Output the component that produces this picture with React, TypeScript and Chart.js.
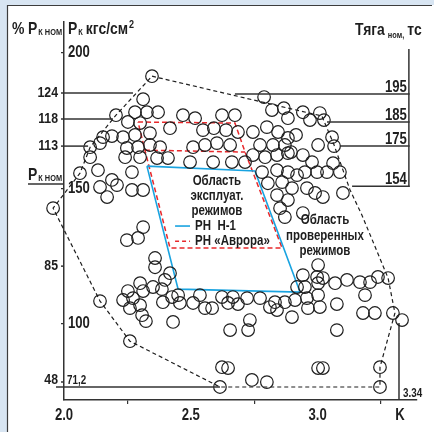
import React, { useEffect, useRef } from "react";
import { Chart, registerables } from "chart.js";

Chart.register(...registerables);

// condensed look: text set in Liberation Sans is squeezed horizontally when drawn
const COND = "'Liberation Sans', Arial, sans-serif";
const SQUEEZE = 0.82;
const INK = "#1e1e1e";
const RULE = "#333333";

// ---- axis ticks ----
const xTickValues = [2.0, 2.25, 2.5, 2.75, 3.0, 3.25, 3.325];
const xTickLabels = ["2.0", "", "2.5", "", "3.0", "", "K"];
const yTickValues = [100, 150, 200];
const yTickLabels = ["100", "150", "200"];

// ---- tested points [K, Pk] ----
const upperBand: number[][] = [
  [2.347, 191.3], [2.312, 182.8], [2.28, 178.0], [2.327, 178.0], [2.371, 178.0], [2.205, 176.9],
  [2.252, 174.4], [2.3, 174.0], [2.154, 168.8], [2.189, 169.2], [2.233, 168.8], [2.28, 169.6],
  [2.339, 170.3], [2.379, 165.1], [2.339, 165.9], [2.103, 165.1], [2.142, 166.6], [2.248, 164.8],
  [2.292, 165.1], [2.103, 161.4], [2.241, 161.4], [2.3, 161.4], [2.367, 161.1], [2.41, 161.1],
  [2.063, 155.5], [2.134, 156.6], [2.189, 153.0], [2.142, 150.4], [2.209, 151.1], [2.17, 146.7],
  [2.268, 155.9], [2.268, 149.3], [2.312, 149.3],
  [2.418, 172.1], [2.469, 176.9], [2.517, 175.8], [2.623, 176.9], [2.674, 176.9], [2.548, 171.4],
  [2.591, 172.1], [2.639, 171.4], [2.686, 170.7], [2.509, 165.1], [2.556, 165.9], [2.603, 166.6],
  [2.655, 165.9], [2.497, 159.6], [2.588, 159.6], [2.662, 159.6], [2.714, 159.6],
  [2.789, 183.6], [2.82, 178.8], [2.867, 179.5], [2.883, 175.8], [2.745, 170.7], [2.8, 172.5],
  [2.844, 170.7], [2.883, 168.5], [2.773, 165.9], [2.824, 165.9], [2.871, 165.9], [2.745, 162.2],
  [2.793, 161.4], [2.84, 162.2], [2.883, 162.9], [2.781, 155.9], [2.84, 156.6], [2.883, 155.9],
  [2.804, 151.8], [2.86, 152.2], [2.899, 150.0], [2.84, 147.4], [2.883, 145.6], [2.852, 142.6],
  [2.942, 178.0], [2.97, 175.1], [3.009, 177.7], [3.025, 175.1], [2.915, 169.6], [3.002, 165.9],
  [3.057, 168.8], [3.065, 165.5], [2.895, 163.3], [2.942, 162.2], [2.978, 159.6], [2.95, 155.9],
  [2.919, 154.8], [2.998, 155.9], [3.037, 155.9], [3.061, 159.2], [3.088, 155.9], [2.958, 150.0],
  [2.99, 148.2], [3.021, 146.7], [3.1, 148.2], [2.942, 140.8], [2.871, 139.3],
];
const lowerBand: number[][] = [
  [2.312, 135.6], [2.248, 130.8], [2.292, 131.6], [2.359, 124.2], [2.359, 120.8], [2.142, 108.3],
  [2.26, 93.5], [2.3, 114.9], [2.252, 112.0], [2.233, 108.7], [2.272, 109.4], [2.312, 112.0],
  [2.26, 105.7], [2.3, 106.8], [2.308, 103.1], [2.323, 100.9], [2.351, 113.5], [2.398, 116.1],
  [2.418, 118.6], [2.386, 112.7], [2.39, 107.9], [2.426, 109.8], [2.43, 100.6],
  [2.45, 110.5], [2.536, 110.5], [2.623, 109.8], [2.666, 109.8], [2.722, 109.4], [2.773, 109.4],
  [2.832, 107.9], [2.871, 107.9], [2.457, 107.6], [2.509, 107.6], [2.556, 105.7], [2.584, 105.7],
  [2.647, 107.6], [2.686, 107.2], [2.812, 106.1], [2.84, 105.0], [2.733, 101.3], [2.726, 97.6],
  [2.655, 97.6], [2.623, 83.9], [2.647, 83.6], [2.615, 76.6], [2.741, 79.2], [2.8, 78.4],
  [3.002, 121.6], [2.942, 117.9], [2.998, 117.2], [3.021, 116.8], [3.069, 114.9], [3.116, 116.1],
  [3.167, 115.3], [3.207, 115.3], [3.238, 117.2], [3.278, 116.8], [3.002, 114.9], [2.95, 113.5],
  [2.919, 113.5], [2.958, 109.4], [2.911, 108.7], [3.002, 110.5], [2.899, 102.4], [2.962, 105.7],
  [3.009, 106.1], [3.076, 107.2], [3.187, 110.5], [3.179, 103.9], [3.226, 103.9], [3.076, 97.6],
  [3.297, 103.9], [3.333, 101.3], [3.002, 83.6], [3.021, 83.6], [3.246, 83.9], [3.246, 76.6],
];
// point lying left of the Pk axis
const edgePoints: number[][] = [[1.957, 142.6]];

// ---- regions [K, Pk] ----
const testedRegion: number[][] = [
  [2.347, 191.3], [3.017, 176.6], [3.065, 165.9], [3.128, 149.3], [3.175, 140.0], [3.278, 116.8],
  [3.305, 103.9], [3.246, 83.9], [3.246, 76.6], [2.615, 76.6], [2.26, 93.5], [2.142, 108.3],
  [1.957, 142.6], [2.063, 155.5], [2.103, 165.1], [2.205, 176.9], [2.347, 191.3],
];
const h1Region: number[][] = [[2.327, 158.1], [2.753, 156.3], [2.931, 111.6], [2.45, 112.7], [2.327, 158.1]];
const auroraOutline: number[][] = [
  [2.292, 174.4], [2.674, 174.0], [2.714, 163.3], [2.86, 127.9], [2.418, 127.9], [2.319, 164.0], [2.292, 174.4],
];
const auroraDivider: number[][] = [[2.319, 164.0], [2.714, 163.3]];

// ---- reference scales ----
const pctRefLabels = ["124", "118", "113"];
const pctRefPk = [185.1, 175.5, 165.5];
const pctRefEndK = [2.272, 2.193, 2.095];
const pctTickLabels = ["85"];
const pctTickPk = [121.2];
const nominalPk = 151.5;
const minPctLabel = "48";
const minPkLabel = "71,2";
const minPk = 76.6;
const minLineEndK = 2.615;
const thrustLabels = ["195", "185", "175", "154"];
const thrustPk = [184.7, 174.4, 165.5, 150.7];
const thrustStartK = [2.674, 3.037, 3.088, 3.136];
const thrustAxisK = 3.36;
const thrustAxisTopPk = 201.3;
const kLimit = 3.321;
const kLimitTopPk = 100.2;
const kLimitLabel = "3.34";

// ---- annotation text anchors [K, Pk] ----
const opRegionText = ["Область", "эксплуат.", "режимов"];
const opRegionK = 2.603;
const opRegionPk = [152.6, 147.0, 141.5];
const testedText = ["Область", "проверенных", "режимов"];
const testedTextK = 3.029;
const testedTextPk = [138.2, 132.3, 126.8];
const legendLabels = ["РН  Н-1", "РН «Аврора»"];
const legendPk = [136.0, 130.4];
const legendK = [2.438, 2.497, 2.517];

const toXY = (a: number[][]) => a.map(([x, y]) => ({ x, y }));

const decor = {
  id: "decor",
  beforeDraw(chart: any) {
    const ctx = chart.ctx as CanvasRenderingContext2D;
    ctx.save();
    ctx.fillStyle = "#d8e5f2";
    ctx.fillRect(0, 0, chart.width, chart.height);
    ctx.fillStyle = "#ffffff";
    ctx.fillRect(7, 5, chart.width - 7, chart.height - 5);
    ctx.strokeStyle = "#3c3c3c";
    ctx.lineWidth = 1.2;
    ctx.beginPath();
    ctx.moveTo(7.5, chart.height);
    ctx.lineTo(7.5, 5.5);
    ctx.lineTo(chart.width - 2, 5.5);
    ctx.stroke();
    ctx.restore();
  },
  afterDatasetsDraw(chart: any) {
    const ctx = chart.ctx as CanvasRenderingContext2D;
    const xs = chart.scales.x;
    const ys = chart.scales.y;
    const px = (v: number) => xs.getPixelForValue(v);
    const py = (v: number) => ys.getPixelForValue(v);
    const { left, bottom } = chart.chartArea;
    const line = (x1: number, y1: number, x2: number, y2: number) => {
      ctx.beginPath();
      ctx.moveTo(x1, y1);
      ctx.lineTo(x2, y2);
      ctx.stroke();
    };
    const text = (t: string, x: number, y: number, font: string, align: CanvasTextAlign = "left", base: CanvasTextBaseline = "alphabetic") => {
      ctx.font = font;
      ctx.textAlign = align;
      ctx.textBaseline = base;
      ctx.fillText(t, x, y);
      const w = ctx.measureText(t).width;
      return ctx.font.includes("Liberation Sans") ? w * SQUEEZE : w;
    };
    // parts: [text, font, baseline shift, gap before]
    const rich = (parts: [string, string, number, number][], x: number, y: number) => {
      let cx = x;
      for (const [t, f, dy, gap] of parts) {
        cx += gap;
        cx += text(t, cx, y + dy, f);
      }
    };
    const B = (s: number) => `bold ${s}px ${COND}`;
    ctx.save();
    ctx.fillStyle = INK;

    // edge circle (outside chart area)
    ctx.lineWidth = 1.2;
    ctx.strokeStyle = INK;
    for (const [k, p] of edgePoints) {
      ctx.beginPath();
      ctx.arc(px(k), py(p), 6.3, 0, Math.PI * 2);
      ctx.stroke();
    }
    ctx.strokeStyle = RULE;
    ctx.lineWidth = 1.5;

    // percent references
    pctRefLabels.forEach((lab, i) => {
      const y = py(pctRefPk[i]);
      line(left - 3, y, px(pctRefEndK[i]), y);
      text(lab, left - 6, y, B(15), "right", "middle");
    });
    pctTickLabels.forEach((lab, i) => {
      const y = py(pctTickPk[i]);
      line(left - 3, y, left, y);
      text(lab, left - 6, y, B(15), "right", "middle");
    });
    // nominal
    const yn = py(nominalPk);
    line(28, yn, left, yn);
    rich([["P", B(17), 0, 0], ["К НОМ", B(9), 1, 1]], 28, yn - 4);
    // minimum
    const ym = py(minPk);
    line(56, ym, px(minLineEndK), ym);
    line(left - 3, ym - 5, left, ym - 5);
    text(minPctLabel, left - 6, ym - 3, B(15), "right");
    text(minPkLabel, left + 3, ym - 3, B(12), "left");

    // thrust scale
    const xa = px(thrustAxisK);
    line(xa, py(thrustAxisTopPk), xa, py(thrustPk[thrustPk.length - 1]) + 0.75);
    thrustLabels.forEach((lab, i) => {
      const y = py(thrustPk[i]);
      line(px(thrustStartK[i]), y, xa + 0.75, y);
      text(lab, xa - 2, y - 2, B(16), "right");
    });
    text(kLimitLabel, px(kLimit) + 4, bottom - 3, B(12), "left");

    // titles
    rich([["%", B(17), 0, 0]], 12, 34);
    rich([["P", B(17), 0, 0], ["К НОМ", B(9), 1, 1]], 28, 34);
    rich([["P", B(17), 0, 0], ["К", B(9), 1, 1], ["кгс/см", B(17), 0, 3], ["2", B(11), -6, 1]], 68, 34);
    rich([["Тяга", B(17), 0, 0], ["ном,", B(9), 3, 3], ["тс", B(17), 0, 3]], 355, 35);

    // annotations
    opRegionText.forEach((t, i) => text(t, px(opRegionK), py(opRegionPk[i]), B(14), "center", "middle"));
    testedText.forEach((t, i) => text(t, px(testedTextK), py(testedTextPk[i]), B(14), "center", "middle"));

    // legend
    ctx.lineWidth = 1.6;
    ctx.strokeStyle = "#19a3e0";
    line(px(legendK[0]), py(legendPk[0]), px(legendK[1]), py(legendPk[0]));
    ctx.strokeStyle = "#e8282b";
    ctx.setLineDash([4, 3]);
    line(px(legendK[0]), py(legendPk[1]), px(legendK[1]), py(legendPk[1]));
    ctx.setLineDash([]);
    legendLabels.forEach((t, i) => text(t, px(legendK[2]), py(legendPk[i]), B(14), "left", "middle"));
    ctx.restore();
  },
};

export default function App() {
  const ref = useRef<HTMLCanvasElement>(null);
  useEffect(() => {
    document.body.style.margin = "0";
    const canvas = ref.current!;
    const c2d = canvas.getContext("2d")!;
    const origFill = c2d.fillText.bind(c2d);
    (c2d as any).fillText = (t: string, x: number, y: number, mw?: number) => {
      if (c2d.font.includes("Liberation Sans")) {
        c2d.save();
        c2d.translate(x, y);
        c2d.scale(SQUEEZE, 1);
        origFill(t, 0, 0);
        c2d.restore();
      } else if (mw === undefined) {
        origFill(t, x, y);
      } else {
        origFill(t, x, y, mw);
      }
    };
    const chart = new Chart(canvas, {
      type: "scatter",
      data: {
        datasets: [
          {
            data: toXY([...upperBand, ...lowerBand]),
            pointRadius: 6.3,
            pointBorderWidth: 1.2,
            pointBorderColor: INK,
            pointBackgroundColor: "rgba(0,0,0,0)",
            showLine: false,
            clip: false,
          },
          {
            data: toXY(testedRegion),
            showLine: true,
            borderColor: INK,
            borderWidth: 1.2,
            borderDash: [4, 3],
            pointRadius: 0,
            fill: false,
            clip: false,
          },
          { data: toXY(h1Region), showLine: true, borderColor: "#19a3e0", borderWidth: 1.6, pointRadius: 0, fill: false },
          { data: toXY(auroraOutline), showLine: true, borderColor: "#e8282b", borderWidth: 1.5, borderDash: [5, 3], pointRadius: 0, fill: false },
          { data: toXY(auroraDivider), showLine: true, borderColor: "#e8282b", borderWidth: 1.5, borderDash: [5, 3], pointRadius: 0, fill: false },
          { data: [{ x: kLimit, y: 71.8 }, { x: kLimit, y: kLimitTopPk }], showLine: true, borderColor: RULE, borderWidth: 1.5, pointRadius: 0, fill: false, clip: false },
        ] as any,
      },
      options: {
        responsive: false,
        animation: false,
        devicePixelRatio: 1,
        events: [],
        layout: { padding: { left: 0, right: 17, top: 22, bottom: 0 } },
        plugins: { legend: { display: false }, tooltip: { enabled: false } },
        scales: {
          x: {
            type: "linear",
            min: 2.0,
            max: 3.392,
            afterBuildTicks: (s: any) => {
              s.ticks = xTickValues.map((v) => ({ value: v }));
            },
            afterFit: (s: any) => {
              s.height = 32;
            },
            ticks: {
              autoSkip: false,
              maxRotation: 0,
              padding: 2,
              color: INK,
              font: { family: COND, size: 16, weight: "bold" },
              callback: (_v: any, i: number) => xTickLabels[i],
            },
            grid: {
              drawOnChartArea: false,
              drawTicks: true,
              tickLength: 4,
              lineWidth: 1.2,
              color: (c: any) => (xTickLabels[c.index] === "" ? RULE : "rgba(0,0,0,0)"),
            },
            border: { display: true, color: RULE, width: 1.5 },
          },
          y: {
            type: "linear",
            min: 71.8,
            max: 211.3,
            afterBuildTicks: (s: any) => {
              s.ticks = yTickValues.map((v) => ({ value: v }));
            },
            afterFit: (s: any) => {
              s.width = 64;
            },
            ticks: {
              mirror: true,
              padding: 4,
              color: INK,
              font: { family: COND, size: 16, weight: "bold" },
              callback: (_v: any, i: number) => yTickLabels[i],
            },
            grid: { drawOnChartArea: false, drawTicks: true, tickLength: 3, lineWidth: 1.2, color: RULE },
            border: { display: true, color: RULE, width: 1.5 },
          },
        },
      } as any,
      plugins: [decor],
    });
    return () => chart.destroy();
  }, []);
  return (
    <div style={{ width: 434, height: 432 }}>
      <canvas ref={ref} width={434} height={432} style={{ display: "block" }} />
    </div>
  );
}
